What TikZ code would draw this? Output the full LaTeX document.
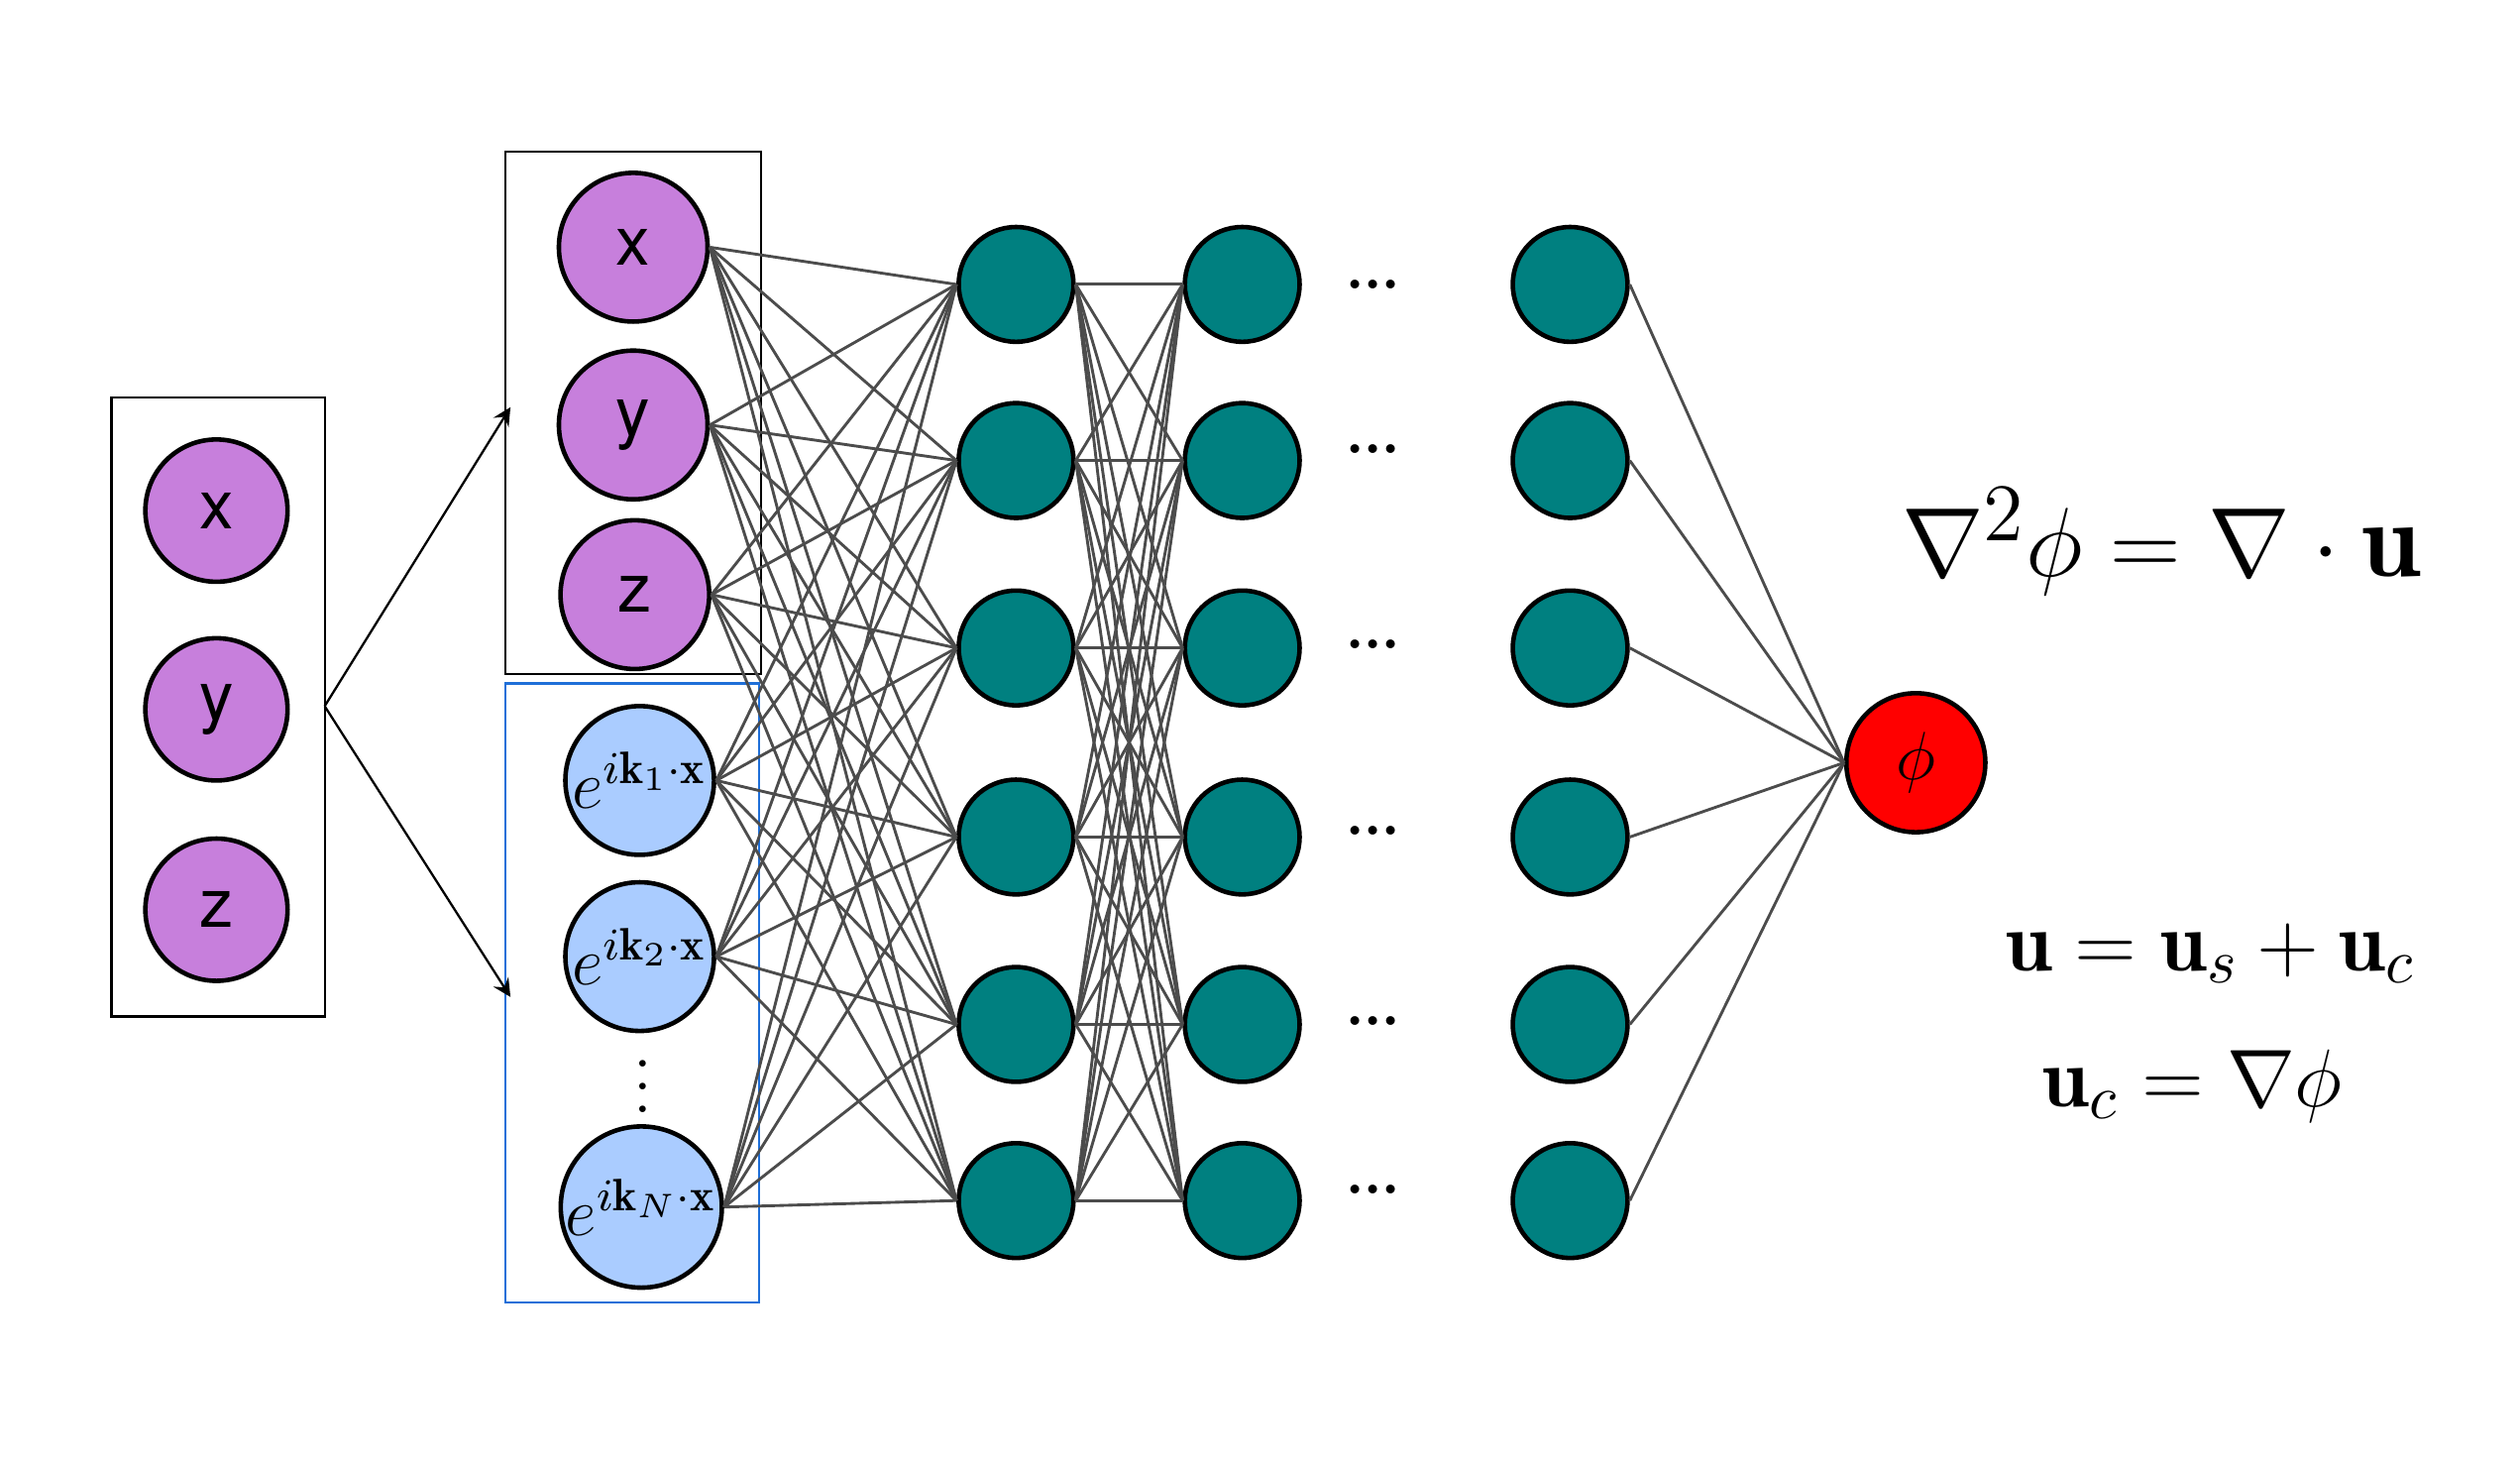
\documentclass[tikz,border=0pt]{standalone}
\usepackage{amssymb,amsmath}
\usepackage{fontspec}
\newfontfamily\nodefont{TeX Gyre Heros}
\usepackage{xcolor}
\definecolor{inpurple}{HTML}{C77FDC}
\definecolor{inblue}{HTML}{AACCFF}
\definecolor{hidteal}{HTML}{008080}
\definecolor{boxblue}{HTML}{1F6FD8}
\begin{document}
\begin{tikzpicture}[
            x = 0.01cm, y = -0.01cm,
            > = stealth, % arrow head style
            inp/.style = {shape=circle, draw=black, fill=inpurple, thick, minimum size=0.88cm, inner sep=0pt, font=\nodefont\large},
            four/.style = {shape=circle, draw=black, fill=inblue, thick, minimum size=0.92cm, inner sep=0pt, font=\large},
            hid/.style = {shape=circle, draw=black, fill=hidteal, thick, minimum size=0.71cm, inner sep=0pt},
            wire/.style = {draw=black!70, line width=0.5pt}
        ]
\useasboundingbox (0,0) rectangle (1560,908);

% left input box
\draw (69,246) rectangle (201,629);
\node[inp] (X0) at (134,316) {x};
\node[inp] (Y0) at (134,439) {y};
\node[inp] (Z0) at (134,563) {z};
\coordinate (split) at (201,437);

% expanded inputs
\draw (313,94) rectangle (471,417);
\draw[boxblue] (313,423) rectangle (470,806);
\node[inp, minimum size=0.92cm] (I1) at (392,153) {x};
\node[inp, minimum size=0.92cm] (I2) at (392,263) {y};
\node[inp, minimum size=0.92cm] (I3) at (393,368) {z};
\node[four] (I4) at (396,483) {$e^{i\mathbf{k}_1\cdot\mathbf{x}}$};
\node[four] (I5) at (396,592) {$e^{i\mathbf{k}_2\cdot\mathbf{x}}$};
\node[four] (I6) at (397,747) {$e^{i\mathbf{k}_N\cdot\mathbf{x}}$};
\node[inner sep=0pt] (vdots) at (398,662) {\large$\vdots$};
\coordinate (top) at (316,252);
\coordinate (bot) at (316,617);

 \path [->] (split) edge (top);
 \path [->] (split) edge (bot);

% hidden layers
\foreach \i/\y in {1/176,2/285,3/401,4/518,5/634,6/743} {
  \node[hid] (A\i) at (629,\y) {};
  \node[hid] (B\i) at (769,\y) {};
  \node[hid] (C\i) at (972,\y) {};
}
\foreach \i/\y in {1/176,2/278,3/399,4/514,5/632,6/736}
  \node (D\i) at (850,\y) {\textbf{...}};

\node[shape=circle, draw=black, fill=red, thick, minimum size=0.86cm, inner sep=0pt, font=\large] (P) at (1186,472) {$\phi$};

\foreach \i in {1,...,6} {
  \foreach \j in {1,...,6} {
    \path[wire] (I\i.east) -- (A\j.west);
    \path[wire] (A\i.east) -- (B\j.west);
  }
  \path[wire] (C\i.east) -- (P.west);
}

% equations
\node (E1) at (1338,335) {\fontsize{19}{23}\selectfont$\nabla^2\phi = \nabla\cdot\mathbf{u}$};
\node (E2) at (1368,590) {\fontsize{15}{18}\selectfont$\mathbf{u} = \mathbf{u}_s + \mathbf{u}_c$};
\node (E3) at (1357,672) {\fontsize{15}{18}\selectfont$\mathbf{u}_c = \nabla\phi$};
\end{tikzpicture}
\end{document}
